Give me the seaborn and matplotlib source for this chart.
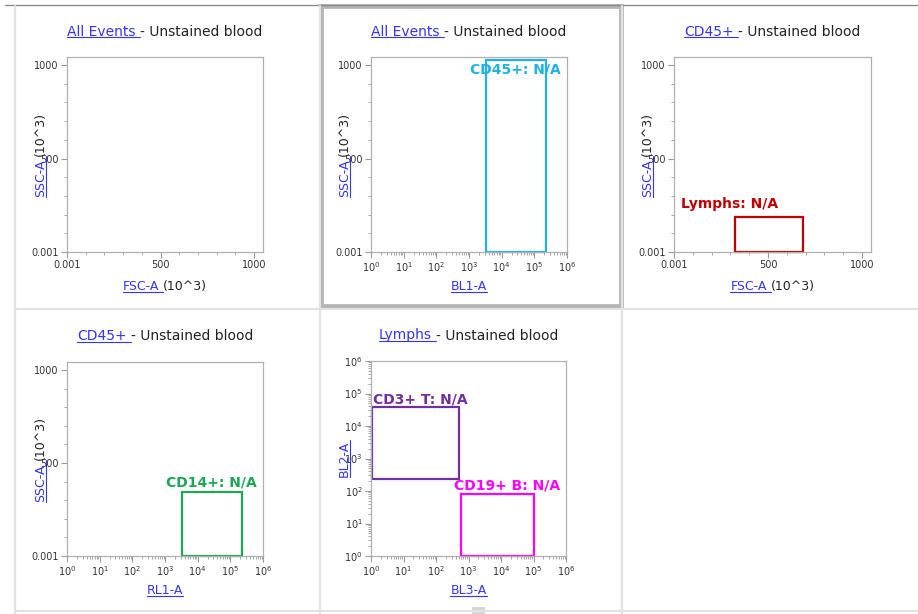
import matplotlib
matplotlib.use("Agg")
import matplotlib.pyplot as plt
from matplotlib.lines import Line2D
from matplotlib.patches import Rectangle
import seaborn as sns

# plot headers and axes
parent_gates = ["All Events", "All Events", "CD45+", "CD45+", "Lymphs"]
sample_name = "Unstained blood"
x_channels = ["FSC-A", "BL1-A", "FSC-A", "RL1-A", "BL3-A"]
y_channels = ["SSC-A", "SSC-A", "SSC-A", "SSC-A", "BL2-A"]
x_units = ["(10^3)", "", "(10^3)", "", ""]
y_units = ["(10^3)", "(10^3)", "(10^3)", "(10^3)", ""]
x_log = [False, True, False, True, True]
y_log = [False, False, False, False, True]

lin_ticks = [0.001, 500, 1000]
lin_labels = ["0.001", "500", "1000"]
lin_minor = [100, 200, 300, 400, 600, 700, 800, 900]
log_decades = [0, 1, 2, 3, 4, 5, 6]

# gates (rectangles)
gate_names = ["CD45+", "Lymphs", "CD14+", "CD3+ T", "CD19+ B"]
gate_plot = [1, 2, 3, 4, 4]
gate_x0 = [3400, 326, 3200, 1.05, 590]
gate_x1 = [230000, 684, 230000, 500, 105000]
gate_y0 = [0.001, 0.001, 0.001, 234, 1]
gate_y1 = [1027, 187, 342, 38000, 80]
gate_stat = ["N/A", "N/A", "N/A", "N/A", "N/A"]
gate_colors = ["#1eb2e6", "#c00000", "#1ca655", "#7030a0", "#ff00ff"]

# where the gate names sit (data coords of baseline anchor)
label_at = [(26000, 957, "center"), (294, 235, "center"), (26000, 371, "center"),
            (1.15, 51000, "left"), (15000, 115, "center")]

W, H = 918, 614
# axes boxes in pixels: left, top, right, bottom
boxes = [(67, 57, 263, 252), (371, 57, 567, 252), (674, 57, 871, 252),
         (67, 362, 263, 556), (371, 361, 566, 556)]

LINK = "#3434f0"
TEXT = "#222222"
GREY = "#b0b0b0"

sns.set_style("ticks")
plt.rcParams["font.family"] = ["DejaVu Sans"]

fig = plt.figure(figsize=(W / 100, H / 100), dpi=100)
renderer = fig.canvas.get_renderer()


def fx(x):
    return x / W


def fy(y):
    return 1 - y / H


def text_len(s, size, weight="normal"):
    t = fig.text(0, 0, s, fontsize=size, fontweight=weight)
    w = t.get_window_extent(renderer).width
    t.remove()
    return w


def rich_label(cx, base, parts, size, vertical=False):
    # parts: list of (string, is_link); centred on cx (or cy if vertical)
    full = "".join(p[0] for p in parts)
    total = text_len(full, size)
    offs = []
    for i in range(len(parts)):
        rest = "".join(p[0] for p in parts[i:])
        offs.append(total - text_len(rest, size))
    offs.append(total)
    for i, (s, link) in enumerate(parts):
        col = LINK if link else TEXT
        if vertical:
            y0 = cx + total / 2 - offs[i]
            fig.text(fx(base), fy(y0), s.rstrip(), fontsize=size, color=col, rotation=90,
                     rotation_mode="anchor", ha="left", va="baseline")
            if link:
                fig.add_artist(Line2D([fx(base + 1.5)] * 2, [fy(y0), fy(cx + total / 2 - offs[i + 1])],
                                      color=col, lw=0.8))
        else:
            x0 = cx - total / 2 + offs[i]
            fig.text(fx(x0), fy(base), s.rstrip(), fontsize=size, color=col,
                     ha="left", va="baseline")
            if link:
                fig.add_artist(Line2D([fx(x0), fx(cx - total / 2 + offs[i + 1])], [fy(base + 1.5)] * 2,
                                      color=col, lw=0.8))


# panel frames
fig.add_artist(Line2D([fx(5), fx(918)], [fy(5), fy(5)], color="#8a8a8a", lw=1))
for xv in [15, 320, 622]:
    fig.add_artist(Line2D([fx(xv)] * 2, [fy(6), fy(614)], color="#e2e2e2", lw=1.6))
for yv in [308.5, 611]:
    fig.add_artist(Line2D([fx(15), fx(918)], [fy(yv)] * 2, color="#e2e2e2", lw=1.6))
fig.add_artist(Rectangle((fx(320.5), fy(305.5)), fx(300), 1 - fy(300), fill=False,
                         edgecolor="#b4b4b4", lw=3.4))
fig.add_artist(Rectangle((fx(472), fy(614)), fx(13), 1 - fy(7), color="#d6d6d6", lw=0))

axes = []
for i, (l, t, r, b) in enumerate(boxes):
    ax = fig.add_axes([fx(l), fy(b), fx(r - l), (b - t) / H])
    axes.append(ax)
    if x_log[i]:
        ax.set_xscale("log")
        ax.set_xlim(1, 1e6)
        ax.set_xticks([10 ** d for d in log_decades])
        ax.set_xticklabels([r"$10^{%d}$" % d for d in log_decades])
    else:
        ax.set_xlim(0, 1048)
        ax.set_xticks(lin_ticks)
        ax.set_xticklabels(lin_labels)
        ax.set_xticks(lin_minor, minor=True)
    if y_log[i]:
        ax.set_yscale("log")
        ax.set_ylim(1, 1e6)
        ax.set_yticks([10 ** d for d in log_decades])
        ax.set_yticklabels([r"$10^{%d}$" % d for d in log_decades])
    else:
        ax.set_ylim(0, 1043)
        ax.set_yticks(lin_ticks)
        ax.set_yticklabels(lin_labels)
        ax.set_yticks(lin_minor, minor=True)
    ax.tick_params(which="major", direction="out", length=4, width=0.8, color="#9a9a9a",
                   labelsize=7, labelcolor="#333333", pad=2)
    ax.tick_params(which="minor", direction="out", length=2, width=0.6, color="#9a9a9a")
    for sp in ax.spines.values():
        sp.set_visible(True)
        sp.set_color(GREY)
        sp.set_linewidth(0.9)
    ax.set_facecolor("white")

    cx = (l + r) / 2
    cy = (t + b) / 2
    rich_label(cx, t - 21.5, [(parent_gates[i] + " ", True), ("- " + sample_name, False)], 10)
    xparts = [(x_channels[i] + (" " if x_units[i] else ""), True)]
    if x_units[i]:
        xparts.append((x_units[i], False))
    rich_label(cx, b + 38, xparts, 9)
    yparts = [(y_channels[i] + (" " if y_units[i] else ""), True)]
    if y_units[i]:
        yparts.append((y_units[i], False))
    rich_label(cy, l - 23, yparts, 9, vertical=True)

for g in range(len(gate_names)):
    ax = axes[gate_plot[g]]
    xs = [gate_x0[g], gate_x1[g], gate_x1[g], gate_x0[g], gate_x0[g]]
    ys = [gate_y0[g], gate_y0[g], gate_y1[g], gate_y1[g], gate_y0[g]]
    sns.lineplot(x=xs, y=ys, sort=False, estimator=None, color=gate_colors[g], lw=1.6, ax=ax)
    ax.lines[-1].set_solid_joinstyle("miter")
    ax.lines[-1].set_clip_on(False)
    lx, ly, ha = label_at[g]
    ax.text(lx, ly, f"{gate_names[g]}: {gate_stat[g]}", color=gate_colors[g], fontsize=10,
            fontweight="bold", ha=ha, va="baseline", clip_on=False)

for ax in axes:
    ax.set_xlabel("")
    ax.set_ylabel("")

fig.savefig("out.png", dpi=100)
